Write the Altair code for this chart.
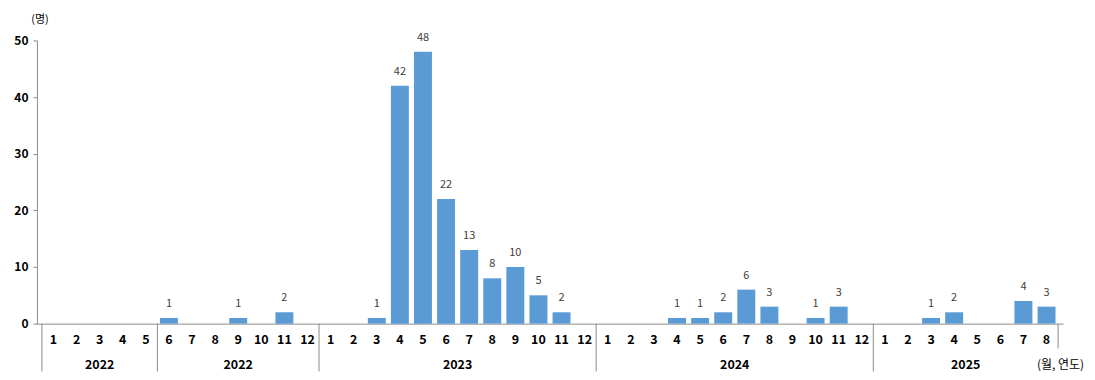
import altair as alt
import pandas as pd

# ---- data ----
group_years = ["2022", "2022", "2023", "2024", "2025"]
group_months = [
    [1, 2, 3, 4, 5],
    [6, 7, 8, 9, 10, 11, 12],
    [1, 2, 3, 4, 5, 6, 7, 8, 9, 10, 11, 12],
    [1, 2, 3, 4, 5, 6, 7, 8, 9, 10, 11, 12],
    [1, 2, 3, 4, 5, 6, 7, 8],
]
values_2022a = [0, 0, 0, 0, 0]
values_2022b = [1, 0, 0, 1, 0, 2, 0]
values_2023 = [0, 0, 1, 42, 48, 22, 13, 8, 10, 5, 2, 0]
values_2024 = [0, 0, 0, 1, 1, 2, 6, 3, 0, 1, 3, 0]
values_2025 = [0, 0, 1, 2, 0, 0, 4, 3]
group_values = [values_2022a, values_2022b, values_2023, values_2024, values_2025]
y_ticks = [0, 10, 20, 30, 40, 50]
y_unit = "(명)"
x_unit = "(월, 연도)"

# ---- tables ----
rows, groups, seps = [], [], []
i = 0
for g, (yr, months, vals) in enumerate(zip(group_years, group_months, group_values)):
    start = i
    for m, v in zip(months, vals):
        rows.append({"center": i + 0.5, "month": str(m), "value": v,
                     "label": str(v) if v > 0 else ""})
        i += 1
    groups.append({"center": (start + i) / 2, "year": yr})
    seps.append({"x": start})
n = i
df = pd.DataFrame(rows)
gdf = pd.DataFrame(groups)
sdf = pd.DataFrame(seps)
edf = pd.DataFrame([{"x": n}])

W, H = 1029, 284
FONT = "Noto Sans CJK KR"
xs = alt.Scale(domain=[0, n], nice=False, zero=False)
ys = alt.Scale(domain=[0, 50], nice=False)

base = alt.Chart(df)

bars = base.mark_bar(size=18, color="#5B9BD5").encode(
    x=alt.X("center:Q", scale=xs,
            axis=alt.Axis(domain=True, domainColor="#8c8c8c", ticks=False,
                          labels=False, grid=False, title=None)),
    y=alt.Y("value:Q", scale=ys,
            axis=alt.Axis(values=y_ticks, grid=False, title=None,
                          domainColor="#8c8c8c", tickColor="#8c8c8c", tickSize=4,
                          labelFont=FONT, labelFontSize=12, labelFontWeight="bold",
                          labelColor="#000000", labelPadding=5)),
)

vlabels = base.transform_filter("datum.value > 0").mark_text(
    dy=-9, baseline="bottom", font=FONT, fontSize=11, color="#404040"
).encode(x=alt.X("center:Q", scale=xs), y=alt.Y("value:Q", scale=ys), text="label:N")

mlabels = base.mark_text(
    baseline="middle", font=FONT, fontSize=12.5, fontWeight="bold", color="#000000"
).encode(x=alt.X("center:Q", scale=xs), y=alt.value(H + 16), text="month:N")

ylabels = alt.Chart(gdf).mark_text(
    baseline="middle", font=FONT, fontSize=12.5, fontWeight="bold", color="#000000"
).encode(x=alt.X("center:Q", scale=xs), y=alt.value(H + 41), text="year:N")

sep_rules = alt.Chart(sdf).mark_rule(color="#8c8c8c", strokeWidth=1).encode(
    x=alt.X("x:Q", scale=xs), y=alt.value(H), y2=alt.value(H + 48))

end_rule = alt.Chart(edf).mark_rule(color="#8c8c8c", strokeWidth=1).encode(
    x=alt.X("x:Q", scale=xs), y=alt.value(H), y2=alt.value(H + 25))

unit_y = alt.Chart(pd.DataFrame([{"t": y_unit}])).mark_text(
    font=FONT, fontSize=11, color="#000000", baseline="middle"
).encode(x=alt.value(3), y=alt.value(-20), text="t:N")

unit_x = alt.Chart(pd.DataFrame([{"t": x_unit}])).mark_text(
    font=FONT, fontSize=12, color="#000000", baseline="middle", align="right"
).encode(x=alt.value(W + 21), y=alt.value(H + 41), text="t:N")

chart = alt.layer(bars, vlabels, mlabels, ylabels, sep_rules, end_rule, unit_y, unit_x).properties(
    width=W, height=H,
    background="white",
    autosize=alt.AutoSizeParams(type="none"),
    padding={"left": 29, "top": 32, "right": 24, "bottom": 48},
).configure_view(stroke=None)

chart.save("out.html", embed_options={"renderer": "svg", "actions": False})
